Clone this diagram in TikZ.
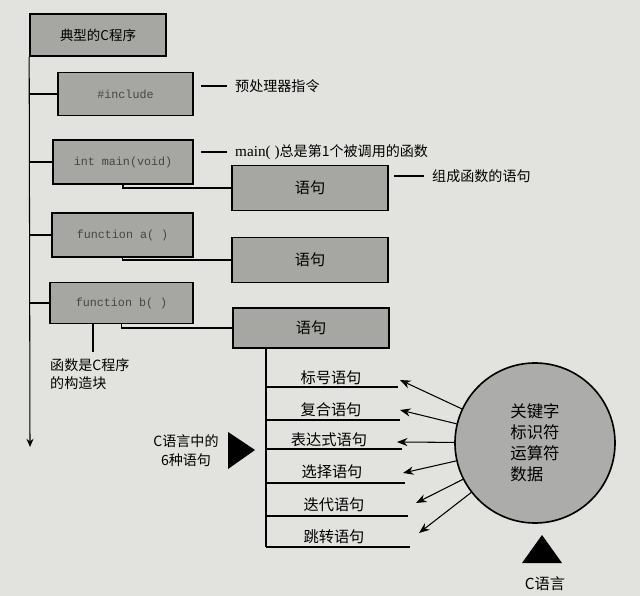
\documentclass[tikz,border=0pt]{standalone}
\usepackage{fontspec}
\setmainfont{Liberation Serif}
\setmonofont{Liberation Mono}
\newfontfamily\cjk{Noto Sans CJK SC}
\usetikzlibrary{arrows.meta}
\definecolor{paper}{RGB}{226,226,222}
\definecolor{boxgray}{RGB}{166,166,162}
\definecolor{circgray}{RGB}{172,172,170}
\definecolor{codegray}{RGB}{70,70,70}
\begin{document}
\begin{tikzpicture}[x=0.03cm,y=-0.03cm,
  gbox/.style={draw=black, line width=1.4pt, fill=boxgray, inner sep=0pt},
  codebox/.style={gbox, font=\ttfamily\fontsize{10}{12}\selectfont, text=codegray},
  stmtbox/.style={gbox, minimum width=4.68cm, minimum height=1.35cm, font=\cjk\fontsize{13}{15}\selectfont},
  lbl/.style={font=\cjk\fontsize{12}{14}\selectfont, inner sep=0pt, anchor=west},
  stmt/.style={font=\cjk\fontsize{13}{15}\selectfont, inner sep=0pt},
  conn/.style={line width=0.9pt},
  arr/.style={line width=0.9pt, -{Stealth[length=9pt,width=7pt]}}
]
\fill[paper] (0,0) rectangle (640,596);
\useasboundingbox (0,0) rectangle (640,596);

% top box
\node[gbox, minimum width=4.08cm, minimum height=1.26cm, font=\cjk\fontsize{11.5}{13}\selectfont] (top) at (98,35) {典型的C程序};

% left column boxes
\node[codebox, minimum width=4.05cm, minimum height=1.29cm] (inc) at (125.5,94) {\#include};
\node[codebox, minimum width=4.2cm, minimum height=1.32cm] (mn) at (123,162) {int main(void)};
\node[codebox, minimum width=4.23cm, minimum height=1.32cm] (fa) at (122.5,235) {function a( )};
\node[codebox, minimum width=4.29cm, minimum height=1.23cm] (fb) at (121.5,303) {function b( )};

% statement boxes
\node[stmtbox] (s1) at (310,188) {语句};
\node[stmtbox] (s2) at (310,260) {语句};
\node[stmtbox, minimum height=1.2cm] (s3) at (311,328) {语句};

% main vertical line with arrow
\coordinate (mainend) at (30,447);
\draw[conn, -{Stealth[length=7pt,width=6pt]}] (top.south west) -- (mainend);
\draw[conn] (top.south west |- inc.west) -- (inc.west);
\draw[conn] (top.south west |- mn.west) -- (mn.west);
\draw[conn] (top.south west |- fa.west) -- (fa.west);
\draw[conn] (top.south west |- fb.west) -- (fb.west);

% sub connectors
\draw[conn] (mn.south) |- (s1.west);
\draw[conn] (fa.south) |- (s2.west);
\draw[conn] (fb.south) |- (s3.west);

% side labels with dashes
\node[lbl] (l1) at (235,86) {预处理器指令};
\draw[conn] ([xshift=-7]l1.west) -- ++(-26,0);
\node[lbl] (l2) at (235,152) {{\rmfamily\fontsize{13}{14}\selectfont main( )}总是第1个被调用的函数};
\draw[conn] ([xshift=-7]l2.west) -- ++(-26,0);
\node[lbl] (l3) at (432,176) {组成函数的语句};
\draw[conn] ([xshift=-7]l3.west) -- ++(-30,0);

% building block label
\coordinate (bt) at (93,352);
\draw[conn] (fb.south -| bt) -- (bt);
\node[font=\cjk\fontsize{12}{16}\selectfont, align=left, anchor=north west, inner sep=0pt] (bb) at (50,358) {函数是C程序\\的构造块};

% statement list
\coordinate (vb) at (266,547);
\draw[conn] (s3.south -| vb) -- (vb);
\foreach \n/\y/\xe in {1/387/398, 2/420/400, 3/449/402, 4/483/405, 5/516/408, 6/547/410}{
  \coordinate (h\n) at (\xe,\y);
  \draw[conn] (vb |- h\n) -- (h\n);
}
\node[stmt] (k1) at (331,378) {标号语句};
\node[stmt] (k2) at (331,410) {复合语句};
\node[stmt] (k3) at (329,440) {表达式语句};
\node[stmt] (k4) at (332,472) {选择语句};
\node[stmt] (k5) at (334,505) {迭代语句};
\node[stmt] (k6) at (334,537) {跳转语句};

% circle
\node[circle, draw=black, line width=1.4pt, fill=circgray, minimum size=4.8cm, inner sep=0pt,
      font=\cjk\fontsize{14}{18}\selectfont, align=left] (c) at (535,443) {关键字\\标识符\\运算符\\数据};

\coordinate (t1) at (400,380);
\coordinate (t2) at (400,410);
\coordinate (t3) at (397,442);
\coordinate (t4) at (403,473);
\coordinate (t5) at (416,503);
\coordinate (t6) at (419,533);
\foreach \n in {1,...,6}{ \draw[arr] (c) -- (t\n); }

% triangles
\fill[black] (228,432) -- (255,450) -- (228,469) -- cycle;
\node[font=\cjk\fontsize{12}{16}\selectfont, align=center, inner sep=0pt] (six) at (186,451) {C语言中的\\6种语句};
\fill[black] (522,563) -- (542,535) -- (562,563) -- cycle;
\node[font=\cjk\fontsize{13}{15}\selectfont, inner sep=0pt] (cl) at (545,584) {C语言};
\end{tikzpicture}
\end{document}
